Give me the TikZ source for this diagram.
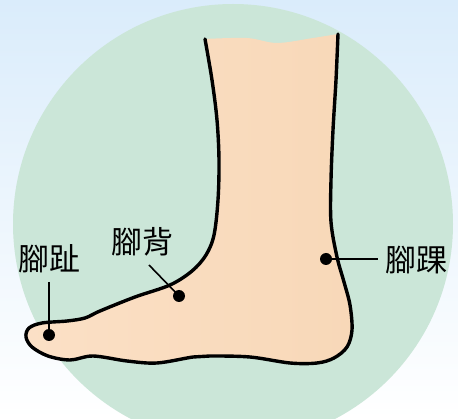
\documentclass[tikz,border=0pt]{standalone}
\usepackage{fontspec}
\newfontfamily\cjkfont{Noto Sans CJK TC}
\usetikzlibrary{positioning}

\definecolor{skytop}{RGB}{218,236,251}
\definecolor{discgreen}{RGB}{203,230,216}
\definecolor{skinlight}{RGB}{251,224,198}
\definecolor{skin}{RGB}{248,216,184}

\tikzset{
  dot/.style={circle, fill=black, inner sep=0pt, minimum size=12},
  partlabel/.style={font=\cjkfont\fontsize{31}{31}\selectfont, inner sep=0pt},
  leader/.style={line width=1.6},
  outline/.style={line width=3.4, line join=round, line cap=round}
}

% foot contour, from the left of the shin round the toes and heel
\newcommand{\footedge}{plot[smooth, tension=0.55] coordinates {
  (205,39) (212,80) (217,120) (219,160) (218,200) (214,235) (206,255)
  (192,271) (170,285) (135,297) (100,311) (85,318) (67,321) (42,323)
  (29,328) (26,337) (32,347) (48,356) (70,360) (93,356) (127,361)
  (157,363) (193,357) (210,356) (250,357) (290,363) (317,363) (334,358)
  (347,347) (352,330) (350,305) (344,282) (337,257) (331,222) (331,180)
  (333,130) (336,80) (338,34)}}

\begin{document}
\begin{tikzpicture}[x=1pt, y=-1pt]
    \useasboundingbox (0,0) rectangle (458,419);

    % Backdrop
    \shade[top color=skytop, bottom color=white] (0,0) rectangle (458,419);
    \fill[discgreen] (233,224) circle (220);

    % Foot
    \shade[left color=skinlight, right color=skin] \footedge
        -- plot[smooth, tension=0.55] coordinates {(338,34) (313,38) (277,43) (247,38) (205,39)} -- cycle;
    \draw[outline] \footedge;

    % Labels
    \node[partlabel] (toe) at (50,259) {腳趾};
    \node[partlabel] (instep) at (142,242) {腳背};
    \node[partlabel] (ankle) at (416,260) {腳踝};

    % Points
    \node[dot] (toedot) at (49,335) {};
    \node[dot] (instepdot) at (179,296) {};
    \node[dot] (ankledot) at (326,259) {};

    % Leaders
    \coordinate (toeend) at (49,282);
    \coordinate (instepend) at (149,265);
    \coordinate (ankleend) at (378,259);
    \draw[leader] (toeend) -- (toedot.center);
    \draw[leader] (instepend) -- (instepdot.center);
    \draw[leader] (ankledot.center) -- (ankleend);
\end{tikzpicture}
\end{document}
